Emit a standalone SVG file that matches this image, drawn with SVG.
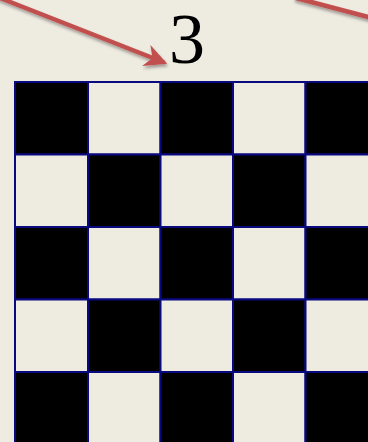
<svg xmlns="http://www.w3.org/2000/svg" width="368" height="442" viewBox="0 0 368 442">
<style>
.b{fill:#000000;stroke:#0a0a80;stroke-width:2}
.w{fill:#EEEBE1;stroke:#0a0a80;stroke-width:2}
.arr{stroke:#C0504D;stroke-width:4.5;fill:none;stroke-linecap:round}
.lbl{font-family:"Liberation Serif",serif;font-size:72px;fill:#000}
</style>
<defs>
<marker id="ah" viewBox="0 0 10 10" refX="8" refY="5" markerWidth="5.2" markerHeight="5" orient="auto" markerUnits="strokeWidth">
<path d="M0,0 L10,5 L0,10 L3,5 Z" fill="#C0504D"/>
</marker>
<filter id="sh" x="-20%" y="-20%" width="140%" height="160%">
<feDropShadow dx="1" dy="2.5" stdDeviation="1.5" flood-color="#000" flood-opacity="0.35"/>
</filter>
</defs>
<rect width="368" height="442" fill="#EEEBE1"/>
<g id="connectors" filter="url(#sh)">
<line class="arr" x1="-5" y1="-4" x2="163" y2="62" marker-end="url(#ah)"/>
<line class="arr" x1="296" y1="-2" x2="372" y2="18"/>
</g>
<g id="label3"><text class="lbl" x="187" y="63" text-anchor="middle">3</text></g>
<g id="board">
<rect class="b" x="15" y="82" width="73" height="72.5"/>
<rect class="w" x="88" y="82" width="72.5" height="72.5"/>
<rect class="b" x="160.5" y="82" width="72.5" height="72.5"/>
<rect class="w" x="233" y="82" width="72.5" height="72.5"/>
<rect class="b" x="305.5" y="82" width="72.5" height="72.5"/>
<rect class="w" x="15" y="154.5" width="73" height="72.5"/>
<rect class="b" x="88" y="154.5" width="72.5" height="72.5"/>
<rect class="w" x="160.5" y="154.5" width="72.5" height="72.5"/>
<rect class="b" x="233" y="154.5" width="72.5" height="72.5"/>
<rect class="w" x="305.5" y="154.5" width="72.5" height="72.5"/>
<rect class="b" x="15" y="227" width="73" height="72.5"/>
<rect class="w" x="88" y="227" width="72.5" height="72.5"/>
<rect class="b" x="160.5" y="227" width="72.5" height="72.5"/>
<rect class="w" x="233" y="227" width="72.5" height="72.5"/>
<rect class="b" x="305.5" y="227" width="72.5" height="72.5"/>
<rect class="w" x="15" y="299.5" width="73" height="72.5"/>
<rect class="b" x="88" y="299.5" width="72.5" height="72.5"/>
<rect class="w" x="160.5" y="299.5" width="72.5" height="72.5"/>
<rect class="b" x="233" y="299.5" width="72.5" height="72.5"/>
<rect class="w" x="305.5" y="299.5" width="72.5" height="72.5"/>
<rect class="b" x="15" y="372" width="73" height="72.5"/>
<rect class="w" x="88" y="372" width="72.5" height="72.5"/>
<rect class="b" x="160.5" y="372" width="72.5" height="72.5"/>
<rect class="w" x="233" y="372" width="72.5" height="72.5"/>
<rect class="b" x="305.5" y="372" width="72.5" height="72.5"/>
</g>
</svg>
